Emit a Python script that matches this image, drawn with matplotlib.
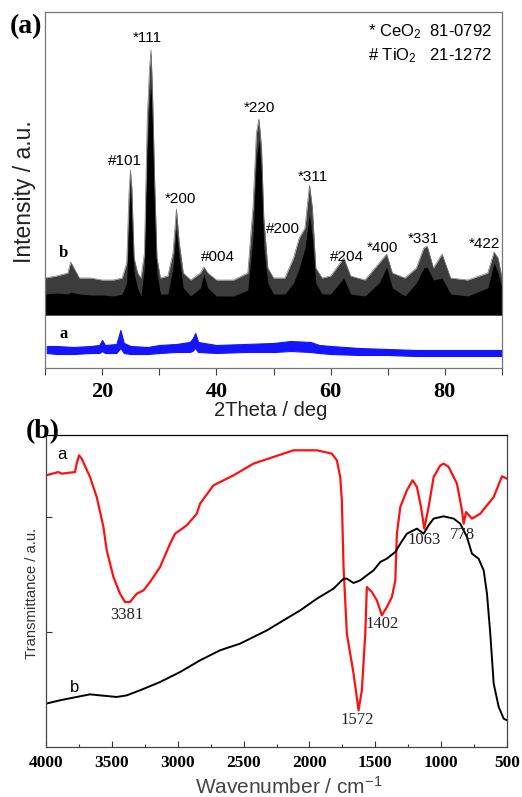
import matplotlib
matplotlib.use("Agg")
import matplotlib.pyplot as plt
from matplotlib.ticker import MultipleLocator

plt.rcParams["font.family"] = ["Liberation Sans", "DejaVu Sans"]
plt.rcParams["mathtext.fontset"] = "custom"
plt.rcParams["mathtext.rm"] = "Liberation Sans"
plt.rcParams["mathtext.it"] = "Liberation Sans:italic"
plt.rcParams["mathtext.bf"] = "Liberation Sans:bold"

SERIF = "Liberation Serif"

# ---- (a) XRD, sample b (black): 2theta, dense core top, spike top (a.u.)
xrd_b_2theta = [10.0, 12.0, 14.0, 14.5, 16.0, 18.0, 20.0, 22.0, 23.5, 24.3, 24.7, 24.95,
                25.2, 25.6, 26.2, 26.8, 27.4, 27.9, 28.3, 28.55, 28.8, 29.2, 29.6, 30.2,
                31.5, 32.4, 33.0, 33.5, 34.2, 35.5, 37.2, 37.8, 38.5, 40.0, 43.0, 45.5,
                46.4, 47.0, 47.45, 47.9, 48.3, 49.0, 50.0, 52.0, 53.5, 54.5, 55.5, 56.3,
                56.8, 57.4, 58.5, 60.0, 62.3, 63.5, 66.0, 68.5, 69.8, 70.8, 73.0, 75.0,
                76.3, 76.9, 78.0, 79.5, 81.0, 84.0, 87.5, 88.6, 89.3, 90.0]
xrd_b_core = [74, 75, 74, 76, 74, 73, 73, 72, 74, 85, 150, 185,
              150, 95, 80, 72, 100, 220, 270, 281, 250, 160, 95, 74,
              74, 100, 140, 110, 80, 72, 80, 94, 80, 72, 72, 78,
              130, 210, 228, 195, 120, 85, 74, 74, 85, 100, 120, 154,
              130, 85, 74, 74, 90, 74, 72, 85, 101, 80, 72, 85,
              100, 101, 88, 90, 74, 72, 80, 105, 95, 80]
xrd_b_spike = [90, 92, 95, 106, 90, 90, 88, 88, 90, 105, 175, 198,
               180, 110, 95, 90, 115, 250, 300, 318, 280, 185, 110, 90,
               92, 115, 159, 125, 95, 88, 95, 101, 95, 88, 88, 95,
               160, 235, 249, 220, 150, 100, 90, 90, 110, 130, 140, 183,
               160, 100, 90, 92, 110, 92, 88, 105, 114, 95, 90, 100,
               120, 122, 100, 114, 90, 88, 95, 116, 110, 90]
xrd_b_floor = 53

# ---- (a) XRD, sample a (blue): 2theta, band bottom, band top
xrd_a_2theta = [10.3, 12.0, 15.0, 18.0, 19.5, 20.0, 20.5, 22.5, 23.2, 23.8, 25.0, 28.0,
                30.0, 33.0, 35.3, 35.8, 36.3, 36.8, 40.0, 45.0, 50.0, 53.0, 56.5, 58.0,
                60.0, 65.0, 70.0, 75.0, 80.0, 85.0, 90.0]
xrd_a_low = [15, 14, 14, 15, 15, 17, 15, 15, 20, 15, 14, 14,
             15, 16, 16, 17, 20, 16, 15, 16, 16, 17, 16, 15,
             14, 13, 13, 12, 12, 12, 12]
xrd_a_high = [22, 22, 21, 22, 23, 28, 23, 24, 38, 25, 22, 21,
              23, 24, 26, 29, 35, 26, 23, 24, 25, 27, 26, 23,
              22, 20, 19, 18, 18, 18, 18]

xrd_labels = ["*111", "#101", "*200", "#004", "*220", "#200", "*311",
              "#204", "*400", "*331", "*422"]
xrd_label_pos = [(28.0, 330), (24.0, 207), (33.8, 169), (40.3, 111), (47.6, 260),
                 (51.7, 139), (56.9, 191), (62.9, 111), (69.0, 120), (76.2, 129),
                 (87.0, 124)]

# ---- (b) FTIR
ir_a_wn = [4000, 3906, 3881, 3780, 3767, 3749, 3729, 3666, 3615, 3564, 3539, 3488,
           3438, 3400, 3362, 3311, 3260, 3210, 3134, 3058, 3020, 2931, 2855, 2830,
           2729, 2577, 2425, 2273, 2121, 1944, 1830, 1792, 1766, 1754, 1741, 1716,
           1665, 1627, 1602, 1576, 1564, 1526, 1488, 1450, 1412, 1374, 1348, 1336,
           1310, 1260, 1217, 1184, 1153, 1128, 1095, 1057, 1006, 981, 943, 880,
           842, 829, 811, 766, 703, 601, 538, 500]
ir_a_t = [2.362, 2.391, 2.377, 2.391, 2.464, 2.536, 2.507, 2.348, 2.174, 1.913, 1.710, 1.478,
          1.333, 1.261, 1.261, 1.333, 1.362, 1.435, 1.565, 1.768, 1.855, 1.928, 2.029, 2.116,
          2.275, 2.362, 2.464, 2.522, 2.580, 2.580, 2.551, 2.493, 2.348, 2.145, 1.565, 0.986,
          0.638, 0.319, 0.493, 0.986, 1.391, 1.348, 1.275, 1.145, 1.217, 1.304, 1.449, 1.855,
          2.087, 2.232, 2.319, 2.261, 2.087, 1.899, 2.087, 2.348, 2.449, 2.464, 2.435, 2.290,
          2.058, 1.942, 2.043, 1.986, 2.029, 2.174, 2.354, 2.333]

ir_b_wn = [4000, 3894, 3767, 3666, 3590, 3463, 3387, 3286, 3134, 2982, 2830, 2678,
           2526, 2399, 2323, 2197, 2070, 1943, 1817, 1741, 1716, 1665, 1614, 1564,
           1513, 1462, 1412, 1348, 1310, 1260, 1184, 1133, 1095, 1057, 981, 905,
           855, 804, 766, 716, 677, 652, 627, 601, 563, 525, 500]
ir_b_t = [0.377, 0.406, 0.435, 0.458, 0.449, 0.435, 0.449, 0.493, 0.565, 0.652, 0.754, 0.841,
          0.899, 0.971, 1.014, 1.101, 1.188, 1.290, 1.377, 1.464, 1.464, 1.426, 1.449, 1.493,
          1.536, 1.609, 1.638, 1.696, 1.768, 1.855, 1.899, 1.855, 1.928, 1.986, 2.006, 1.986,
          1.942, 1.826, 1.681, 1.638, 1.536, 1.333, 0.986, 0.551, 0.348, 0.246, 0.232]

ir_labels = ["3381", "1402", "1572", "1063", "778"]
ir_label_pos = [(3385, 1.148), (1449, 1.07), (1639, 0.235), (1130, 1.80), (842, 1.843)]

fig = plt.figure(figsize=(5.22, 7.97), dpi=100)

# ================= (a) =================
ax1 = fig.add_axes([45 / 522, 1 - 368 / 797, 457 / 522, 356 / 797])
ax1.fill_between(xrd_b_2theta, xrd_b_floor, xrd_b_spike, color="#3c3c3c", lw=0)
ax1.fill_between(xrd_b_2theta, xrd_b_floor, xrd_b_core, color="black", lw=0)
ax1.plot(xrd_b_2theta, xrd_b_spike, color="#777777", lw=0.5)
ax1.fill_between(xrd_a_2theta, xrd_a_low, xrd_a_high, color="#1414ff", lw=0.8,
                 edgecolor="#1414ff")

ax1.set_xlim(10, 90)
ax1.set_ylim(0, 356)
ax1.xaxis.set_major_locator(MultipleLocator(20))
ax1.xaxis.set_minor_locator(MultipleLocator(10))
ax1.set_yticks([])
ax1.tick_params(axis="x", which="both", direction="out", color="#444444")
ax1.tick_params(axis="x", which="major", length=5, width=0.8, pad=5)
ax1.tick_params(axis="x", which="minor", length=5, width=0.8)
for lab in ax1.get_xticklabels():
    lab.set_fontfamily(SERIF)
    lab.set_fontweight("bold")
    lab.set_fontsize(16)
for sp in ax1.spines.values():
    sp.set_color("#777777")
    sp.set_linewidth(0.9)

for txt, (x, y) in zip(xrd_labels, xrd_label_pos):
    ax1.text(x, y, txt, ha="center", va="center", fontsize=11)
ax1.text(13.2, 115, "b", ha="center", va="center", fontsize=12,
         fontfamily=SERIF, fontweight="bold")
ax1.text(13.2, 34, "a", ha="center", va="center", fontsize=12,
         fontfamily=SERIF, fontweight="bold")
ax1.text(0.978, 0.944, "* CeO$_2$  81-0792", transform=ax1.transAxes,
         ha="right", va="center", fontsize=12)
ax1.text(0.978, 0.876, "# TiO$_2$   21-1272", transform=ax1.transAxes,
         ha="right", va="center", fontsize=12)

fig.text(26 / 522, 1 - 27 / 797, "(a)", ha="center", va="center", fontsize=20,
         fontfamily=SERIF, fontweight="bold")
fig.text(24 / 522, 1 - 192 / 797, "Intensity / a.u.", rotation=90,
         ha="center", va="center", fontsize=16.5, color="#222222")
fig.text(271 / 522, 1 - 410 / 797, "2Theta / deg", ha="center", va="center",
         fontsize=14.5, color="#222222")

# ================= (b) =================
ax2 = fig.add_axes([46 / 522, 1 - 747 / 797, 461 / 522, 312 / 797])
ax2.plot(ir_a_wn, ir_a_t, color="#ff1010", lw=1.6)
ax2.plot(ir_b_wn, ir_b_t, color="black", lw=1.4)
ax2.set_xlim(4000, 500)
ax2.set_ylim(0, 312 / 115)
ax2.xaxis.set_major_locator(MultipleLocator(500))
ax2.xaxis.set_minor_locator(MultipleLocator(250))
ax2.set_yticks([1, 2])
ax2.set_yticklabels([])
ax2.tick_params(axis="both", which="both", direction="in", color="#333333")
ax2.tick_params(axis="x", which="major", length=4, width=0.8, pad=6)
ax2.tick_params(axis="x", which="minor", length=2.5, width=0.8)
ax2.tick_params(axis="y", which="major", length=4, width=0.8)
for lab in ax2.get_xticklabels():
    lab.set_fontfamily(SERIF)
    lab.set_fontweight("bold")
    lab.set_fontsize(12.5)
for sp in ax2.spines.values():
    sp.set_color("#444444")
    sp.set_linewidth(0.9)
ax2.spines["top"].set_color("black")

for txt, (x, y) in zip(ir_labels, ir_label_pos):
    ax2.text(x, y, txt, ha="center", va="center", fontsize=12, fontfamily=SERIF,
             color="#222222")
ax2.text(3879, 2.54, "a", ha="center", va="center", fontsize=12)
ax2.text(3780, 0.52, "b", ha="center", va="center", fontsize=12)

fig.text(43 / 522, 1 - 432 / 797, "(b)", ha="center", va="center", fontsize=20,
         fontfamily=SERIF, fontweight="bold")
fig.text(32 / 522, 1 - 593 / 797, "Transmittance / a.u.", rotation=90,
         ha="center", va="center", fontsize=10.7, color="#333333")
fig.text(289 / 522, 1 - 787 / 797, "Wavenumber / cm$^{-1}$", ha="center",
         va="center", fontsize=15, color="#444444")

fig.savefig("out.png", dpi=100)
